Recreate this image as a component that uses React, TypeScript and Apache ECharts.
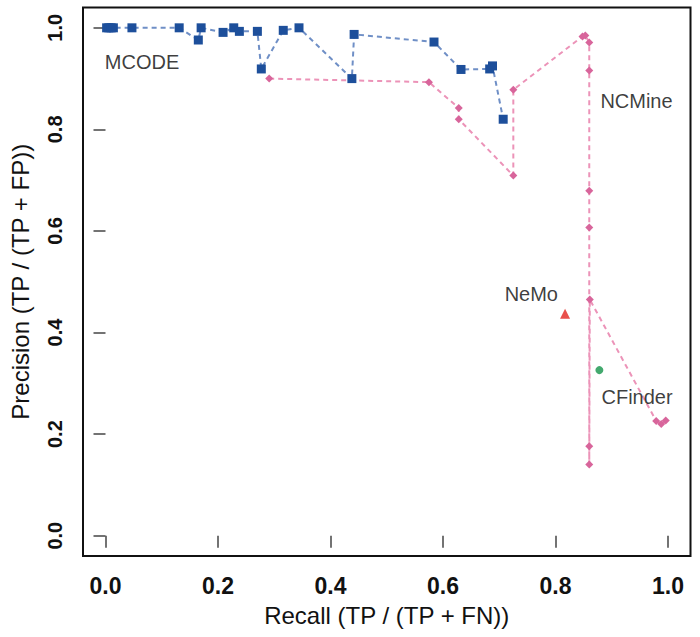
import React, { useEffect, useRef } from "react";
import * as echarts from "echarts";

const tickValues = [0, 0.2, 0.4, 0.6, 0.8, 1.0];

const mcodeRecall = [0.002, 0.006, 0.010, 0.014, 0.047, 0.131, 0.165, 0.170, 0.209, 0.228, 0.238, 0.270, 0.277, 0.316, 0.344, 0.438, 0.442, 0.584, 0.632, 0.683, 0.688, 0.707];
const mcodePrecision = [1.0, 1.0, 1.0, 1.0, 1.0, 1.0, 0.976, 1.0, 0.991, 1.0, 0.993, 0.993, 0.919, 0.995, 1.0, 0.900, 0.987, 0.972, 0.918, 0.919, 0.925, 0.820];

const ncmineRecall = [0.291, 0.575, 0.628, 0.628, 0.725, 0.725, 0.848, 0.853, 0.860, 0.860, 0.860, 0.860, 0.860, 0.860, 0.861, 0.979, 0.988, 0.996];
const ncminePrecision = [0.900, 0.893, 0.842, 0.820, 0.709, 0.878, 0.983, 0.985, 0.971, 0.916, 0.679, 0.607, 0.176, 0.140, 0.465, 0.226, 0.220, 0.227];

const nemoPoint = [0.817, 0.437];
const cfinderPoint = [0.878, 0.326];

const labelNames = ["MCODE", "NCMine", "NeMo", "CFinder"];
const labelX = [0.065, 0.944, 0.757, 0.945];
const labelY = [0.932, 0.856, 0.476, 0.273];

const FONT = "'Liberation Sans', Arial, Helvetica, sans-serif";

export default function App() {
  const ref = useRef<HTMLDivElement>(null);

  useEffect(() => {
    if (!ref.current) return;
    const chart = echarts.init(ref.current, undefined, { renderer: "svg" });
    const axisCommon = {
      type: "value" as const,
      min: -0.04,
      max: 1.04,
      splitLine: { show: false },
      axisLine: { show: false },
    };
    chart.setOption({
      animation: false,
      backgroundColor: "#ffffff",
      textStyle: { fontFamily: FONT },
      grid: {
        left: 78.5,
        right: 9.5,
        top: 7.5,
        bottom: 81,
        show: true,
        borderColor: "#111111",
        borderWidth: 2,
        containLabel: false,
      },
      xAxis: {
        ...axisCommon,
        name: "Recall (TP / (TP + FN))",
        nameLocation: "middle",
        nameGap: 47,
        nameTextStyle: { fontSize: 24, color: "#111", fontFamily: FONT },
        axisTick: {
          show: true,
          length: 12,
          customValues: tickValues,
          lineStyle: { color: "#444", width: 1.5 },
        },
        axisLabel: {
          customValues: tickValues,
          formatter: (v: number) => v.toFixed(1),
          fontSize: 23,
          fontWeight: "bold",
          color: "#111",
          margin: 18,
          fontFamily: FONT,
        },
      },
      yAxis: {
        ...axisCommon,
        name: "Precision (TP / (TP + FP))",
        nameLocation: "middle",
        nameGap: 51,
        nameRotate: 90,
        nameTextStyle: { fontSize: 24, color: "#111", fontFamily: FONT },
        axisTick: {
          show: true,
          length: 12,
          customValues: tickValues,
          lineStyle: { color: "#444", width: 1.5 },
        },
        axisLabel: {
          customValues: tickValues,
          formatter: (v: number) => v.toFixed(1),
          fontSize: 20,
          fontWeight: "bold",
          color: "#111",
          rotate: 90,
          align: "center",
          verticalAlign: "middle",
          margin: 28,
          fontFamily: FONT,
        },
      },
      series: [
        {
          name: "NCMine",
          type: "line",
          data: ncmineRecall.map((x, i) => [x, ncminePrecision[i]]),
          symbol: "diamond",
          symbolSize: 8,
          showAllSymbol: true,
          itemStyle: { color: "#d8659b" },
          lineStyle: { color: "#ec93b8", width: 2, type: [5, 4] },
          z: 2,
        },
        {
          name: "MCODE",
          type: "line",
          data: mcodeRecall.map((x, i) => [x, mcodePrecision[i]]),
          symbol: "rect",
          symbolSize: 9,
          showAllSymbol: true,
          itemStyle: { color: "#1d4f9b" },
          lineStyle: { color: "#6f8fc6", width: 2, type: [5, 4] },
          z: 3,
        },
        {
          name: "NeMo",
          type: "scatter",
          data: [nemoPoint],
          symbol: "triangle",
          symbolSize: 10,
          itemStyle: { color: "#e3241f" },
          z: 4,
        },
        {
          name: "CFinder",
          type: "scatter",
          data: [cfinderPoint],
          symbol: "circle",
          symbolSize: 8,
          itemStyle: { color: "#14934a" },
          z: 4,
        },
        {
          name: "labels",
          type: "scatter",
          data: labelNames.map((n, i) => ({ value: [labelX[i], labelY[i]], name: n })),
          symbolSize: 1,
          itemStyle: { color: "rgba(0,0,0,0)" },
          label: {
            show: true,
            position: "inside",
            formatter: (p: any) => p.name,
            fontSize: 20,
            color: "#0a0a0a",
            textBorderWidth: 0,
            fontFamily: FONT,
          },
          silent: true,
          z: 5,
        },
      ],
    });
    return () => chart.dispose();
  }, []);

  return (
    <div
      ref={ref}
      style={{ position: "fixed", left: 0, top: 0, width: 700, height: 637, background: "#fff" }}
    />
  );
}
